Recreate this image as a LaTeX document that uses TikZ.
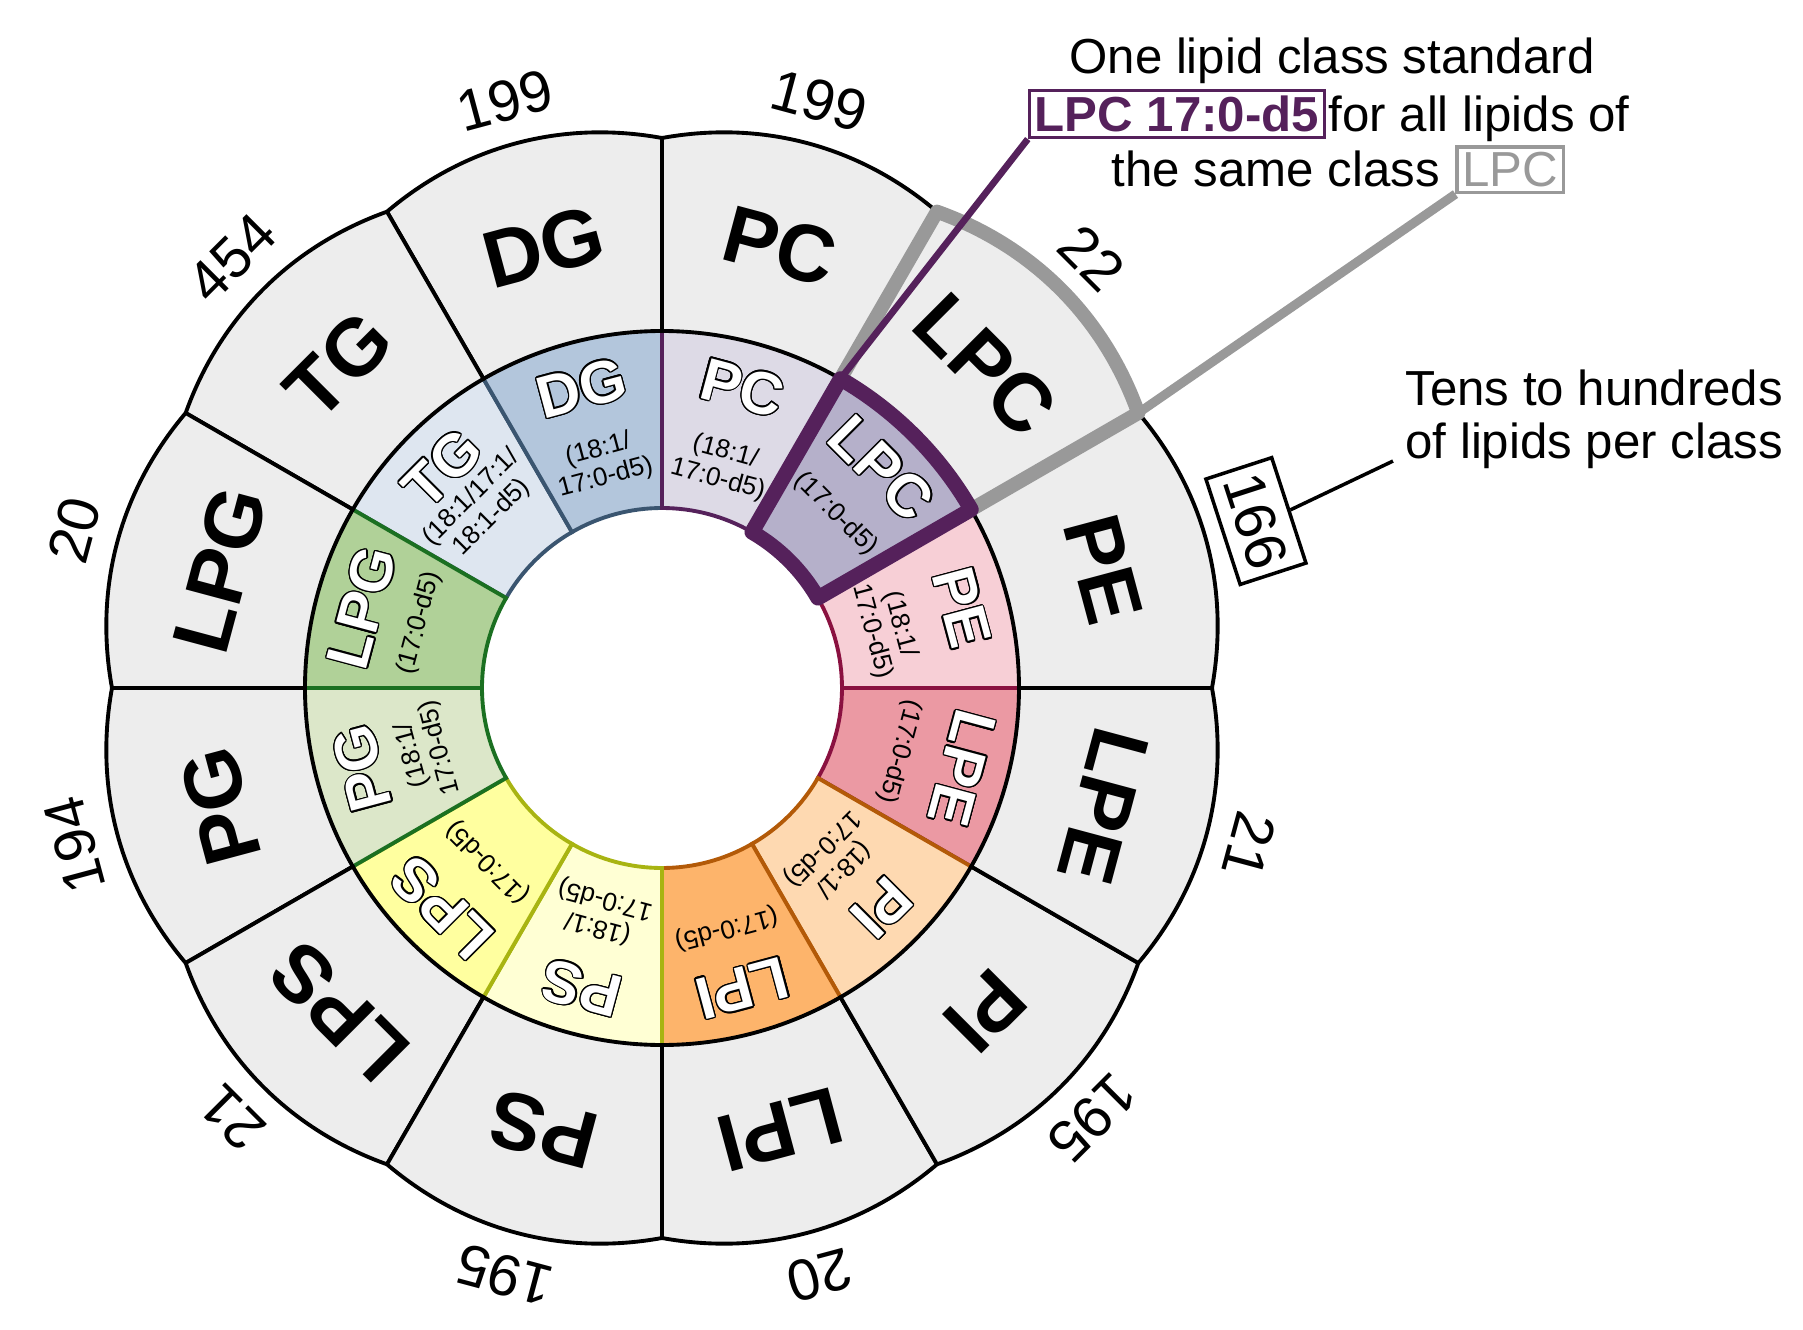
\documentclass[tikz,border=0pt]{standalone}
\usepackage{fontspec}
\setmainfont{Liberation Sans}
\usepackage{contour}
\contourlength{0.4pt}
\usetikzlibrary{positioning}

% class colours
\definecolor{outerFill}{HTML}{EDEDED}
\definecolor{colPC}{HTML}{DDDAE6}
\definecolor{colLPC}{HTML}{B5B0CA}
\definecolor{linePC}{HTML}{55215B}
\definecolor{colPE}{HTML}{F7CFD6}
\definecolor{colLPE}{HTML}{EB99A3}
\definecolor{linePE}{HTML}{8A1140}
\definecolor{colPI}{HTML}{FED9B1}
\definecolor{colLPI}{HTML}{FDB46B}
\definecolor{linePI}{HTML}{B35A08}
\definecolor{colPS}{HTML}{FFFFD4}
\definecolor{colLPS}{HTML}{FFFF9F}
\definecolor{linePS}{HTML}{A8B412}
\definecolor{colPG}{HTML}{DCE7C9}
\definecolor{colLPG}{HTML}{B0D198}
\definecolor{linePG}{HTML}{1B7021}
\definecolor{colTG}{HTML}{DEE6F0}
\definecolor{colDG}{HTML}{B3C6DC}
\definecolor{lineTG}{HTML}{3A5570}
\definecolor{hlGrey}{HTML}{999999}

% radii of the rings
\def\rIn{1.8}
\def\rMid{3.57}
\def\rOut{5.5}
\def\rCtl{5.77}

% standards per class
\def\subA{(18:1/\\17:0-d5)}
\def\subB{(17:0-d5)}
\def\subT{(18:1/17:1/\\18:1-d5)}

\tikzset{
  outerseg/.style={draw=black, fill=outerFill, line width=1.1pt, line join=round},
  seglabel/.style={font=\fontsize{23}{23}\selectfont\bfseries},
  ringlabel/.style={font=\fontsize{17}{17}\selectfont\bfseries, text=white},
  sublabel/.style={font=\fontsize{7.4}{8.2}\selectfont, align=center},
  countlabel/.style={font=\fontsize{16.5}{16.5}\selectfont},
  note/.style={font=\fontsize{14}{15.2}\selectfont},
  stdbox/.style={draw=linePC, text=linePC, line width=1pt, inner sep=1.5pt,
    font=\fontsize{14}{15.2}\selectfont\bfseries},
  classbox/.style={draw=hlGrey, text=hlGrey, line width=1pt, inner sep=1.5pt,
    font=\fontsize{14}{15.2}\selectfont},
}

\begin{document}
\begin{tikzpicture}
	\useasboundingbox (-6.62,-6.42) rectangle (11.41,6.88);
	% Middle ring: fill and border of each class
	\foreach \a/\fc/\bc in {120/colTG/lineTG, 90/colDG/lineTG, 60/colPC/linePC,
	    330/colLPE/linePE, 0/colPE/linePE, 300/colPI/linePI, 270/colLPI/linePI,
	    240/colPS/linePS, 210/colLPS/linePS, 180/colPG/linePG, 150/colLPG/linePG,
	    30/colLPC/linePC}{
		\fill[\fc] (\a:\rIn) arc[start angle=\a, end angle=\a+30, radius=\rIn]
		  -- ({\a+30}:\rMid) arc[start angle=\a+30, end angle=\a, radius=\rMid] -- cycle;
		\draw[\bc, line width=1.1pt] ({\a+30}:\rMid) -- ({\a+30}:\rIn)
		  arc[start angle=\a+30, end angle=\a, radius=\rIn] -- (\a:\rMid);
	}
	% Outer ring
	\foreach \a in {0,30,...,330}
		\draw[outerseg] (\a:\rMid) -- (\a:\rOut) .. controls ({\a+10}:\rCtl) and ({\a+20}:\rCtl) .. ({\a+30}:\rOut)
		  -- ({\a+30}:\rMid) arc[start angle=\a+30, end angle=\a, radius=\rMid] -- cycle;
	% Highlight of the LPC class
	\coordinate (lpcin) at (60:\rMid);
	\coordinate (lpcout) at (30:\rOut);
	\draw[hlGrey, line width=4pt, line join=round] (lpcin) -- (60:\rOut)
	  .. controls (50:\rCtl) and (40:\rCtl) .. (lpcout) -- (30:\rMid);
	\draw[linePC, line width=4.3pt, line join=round] (30:\rIn) arc[start angle=30, end angle=60, radius=\rIn]
	  -- (lpcin) arc[start angle=60, end angle=30, radius=\rMid] -- cycle;
	% Class labels
	\foreach \a/\n in {15/PE, 45/LPC, 75/PC, 105/DG, 135/TG, 165/LPG, 195/PG, 225/LPS,
	    255/PS, 285/LPI, 315/PI, 345/LPE}{
		\node[seglabel, rotate=\a-90] (out\n) at (\a:4.57) {\n};
		\node[ringlabel, rotate=\a-90] (mid\n) at (\a:3.1) {\contour{black}{\n}};
	}
	% Internal standards
	\foreach \a/\n/\r/\txt in {15/PE/2.32/\subA, 45/LPC/2.46/\subB, 75/PC/2.30/\subA,
	    105/DG/2.32/\subA, 135/TG/2.55/\subT, 165/LPG/2.51/\subB, 195/PG/2.44/\subA,
	    225/LPS/2.46/\subB, 255/PS/2.33/\subA, 285/LPI/2.49/\subB, 315/PI/2.41/\subA,
	    345/LPE/2.46/\subB}
		\node[sublabel, rotate=\a-90] (sub\n) at (\a:\r) {\txt};
	% Number of lipids per class
	\foreach \a/\n/\cnt in {45/LPC/22, 75/PC/199, 105/DG/199, 135/TG/454, 165/LPG/20,
	    195/PG/194, 225/LPS/21, 255/PS/195, 285/LPI/20, 315/PI/195, 345/LPE/21}
		\node[countlabel, rotate=\a-90] (cnt\n) at (\a:6.08) {\cnt};
	\node[countlabel, draw, line width=1pt, inner xsep=2pt, inner ysep=4pt, rotate=-72] (cntPE) at (15.7:6.17) {166};
	% Notes
	\node[note] (headline) at (6.70,6.27) {One lipid class standard};
	\node[stdbox] (lpcstd) at (5.15,5.74) {LPC 17:0-d5};
	\node[note, base right=-0.1cm of lpcstd] (forall) {for all lipids of};
	\node[note] (sameclass) at (6.14,5.19) {the same class};
	\node[classbox, base right=0.03cm of sameclass] (lpcclass) {LPC};
	\node[note, align=left, anchor=west] (tens) at (7.31,2.69) {Tens to hundreds\\of lipids per class};
	\draw[hlGrey, line width=2.6pt] (lpcclass.south west) -- (lpcout);
	\draw[linePC, line width=1.9pt] (lpcstd.south west) -- (lpcin);
	\draw[line width=1pt] (cntPE.north) -- ([yshift=0.2cm]tens.south west);
\end{tikzpicture}
\end{document}
